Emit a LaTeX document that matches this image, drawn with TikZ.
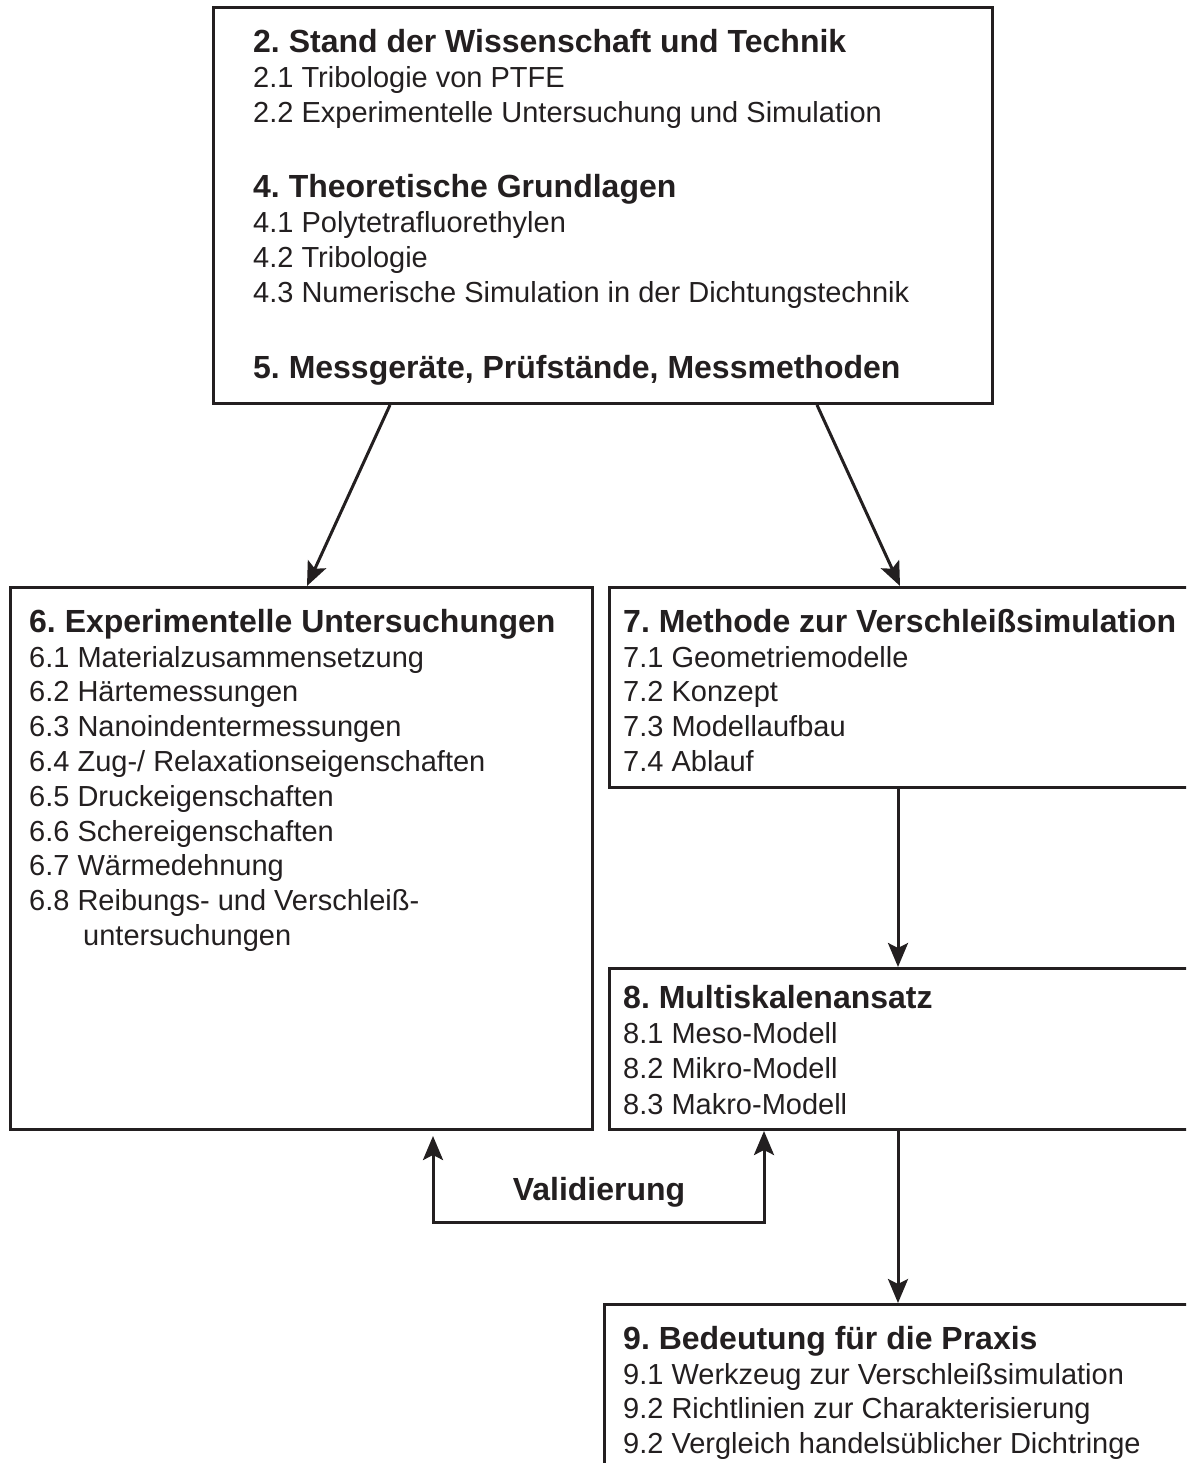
\documentclass[tikz,border=0pt]{standalone}
\usepackage{fontspec}
\setmainfont{Liberation Sans}
\usetikzlibrary{arrows.meta}
\definecolor{ink}{HTML}{231F20}
\frenchspacing
\begin{document}
\begin{tikzpicture}[x=1pt,y=-1pt,
  >={Stealth[length=24pt,width=20pt,inset=5pt]},
  frame/.style={draw=ink, line width=3pt, rectangle, inner sep=0pt, anchor=north west},
  head/.style={anchor=base west, inner sep=0pt, text=ink, font=\fontsize{32}{38}\selectfont\bfseries},
  item/.style={anchor=base west, inner sep=0pt, text=ink, font=\fontsize{29}{35}\selectfont},
  link/.style={draw=ink, line width=3pt, ->}]
\useasboundingbox (0,0) rectangle (1186,1463);
\clip (0,0) rectangle (1186,1463);

% frames
\node[frame, minimum width=779pt, minimum height=396pt] (b2) at (212,6) {};
\node[frame, minimum width=582pt, minimum height=542pt] (b6) at (9,586) {};
\node[frame, minimum width=600pt, minimum height=200pt] (b7) at (608,586) {};
\node[frame, minimum width=600pt, minimum height=161pt] (b8) at (608,967) {};
\node[frame, minimum width=620pt, minimum height=200pt] (b9) at (603,1303) {};

% chapters 2, 4, 5
\node[head] (h2) at (253,53) {2. Stand der Wissenschaft und Technik};
\node[item] (i21) at (253,88) {2.1 Tribologie von PTFE};
\node[item] (i22) at (253,122.5) {2.2 Experimentelle Untersuchung und Simulation};
\node[head] (h4) at (253,198) {4. Theoretische Grundlagen};
\node[item] (i41) at (253,233) {4.1 Polytetrafluorethylen};
\node[item] (i42) at (253,267.5) {4.2 Tribologie};
\node[item] (i43) at (253,302) {4.3 Numerische Simulation in der Dichtungstechnik};
\node[head] (h5) at (253,378) {5. Messgeräte, Prüfstände, Messmethoden};

% chapter 6
\node[head] (h6) at (29,632) {6. Experimentelle Untersuchungen};
\foreach \t [count=\i] in {{6.1 Materialzusammensetzung},{6.2 Härtemessungen},
  {6.3 Nanoindentermessungen},{6.4 Zug-/ Relaxationseigenschaften},
  {6.5 Druckeigenschaften},{6.6 Schereigenschaften},{6.7 Wärmedehnung},
  {6.8 Reibungs- und Verschleiß-}}
  \node[item, name=i6-\i] at (29,{667+(\i-1)*34.8}) {\t};
\node[item] (i6c) at (83,945.4) {untersuchungen};

% chapter 7
\node[head] (h7) at (623,632) {7. Methode zur Verschleißsimulation};
\foreach \t [count=\i] in {{7.1 Geometriemodelle},{7.2 Konzept},{7.3 Modellaufbau},{7.4 Ablauf}}
  \node[item, name=i7-\i] at (623,{667+(\i-1)*34.8}) {\t};

% chapter 8
\node[head] (h8) at (623,1008) {8. Multiskalenansatz};
\foreach \t [count=\i] in {{8.1 Meso-Modell},{8.2 Mikro-Modell},{8.3 Makro-Modell}}
  \node[item, name=i8-\i] at (623,{1043+(\i-1)*35.5}) {\t};

% chapter 9
\node[head] (h9) at (623,1349) {9. Bedeutung für die Praxis};
\foreach \t [count=\i] in {{9.1 Werkzeug zur Verschleißsimulation},{9.2 Richtlinien zur Charakterisierung},
  {9.2 Vergleich handelsüblicher Dichtringe}}
  \node[item, name=i9-\i] at (623,{1384+(\i-1)*34.8}) {\t};

% connectors
\draw[link] ([xshift=178pt]b2.south west) -- ([xshift=298pt]b6.north west);
\draw[link] ([xshift=605pt]b2.south west) -- ([xshift=292pt]b7.north west);
\draw[link] ([xshift=290pt]b7.south west) -- ([xshift=290pt]b8.north west);
\draw[link] ([xshift=290pt]b8.south west) -- ([xshift=295pt]b9.north west);

% validation loop
\coordinate (vb) at (600,1222);
\draw[draw=ink, line width=3pt, <->]
  ([xshift=424pt,yshift=-5pt]b6.south west) |- (vb) -| ([xshift=156pt]b8.south west);
\node[head, anchor=base] (val) at (599,1200) {Validierung};
\end{tikzpicture}
\end{document}
